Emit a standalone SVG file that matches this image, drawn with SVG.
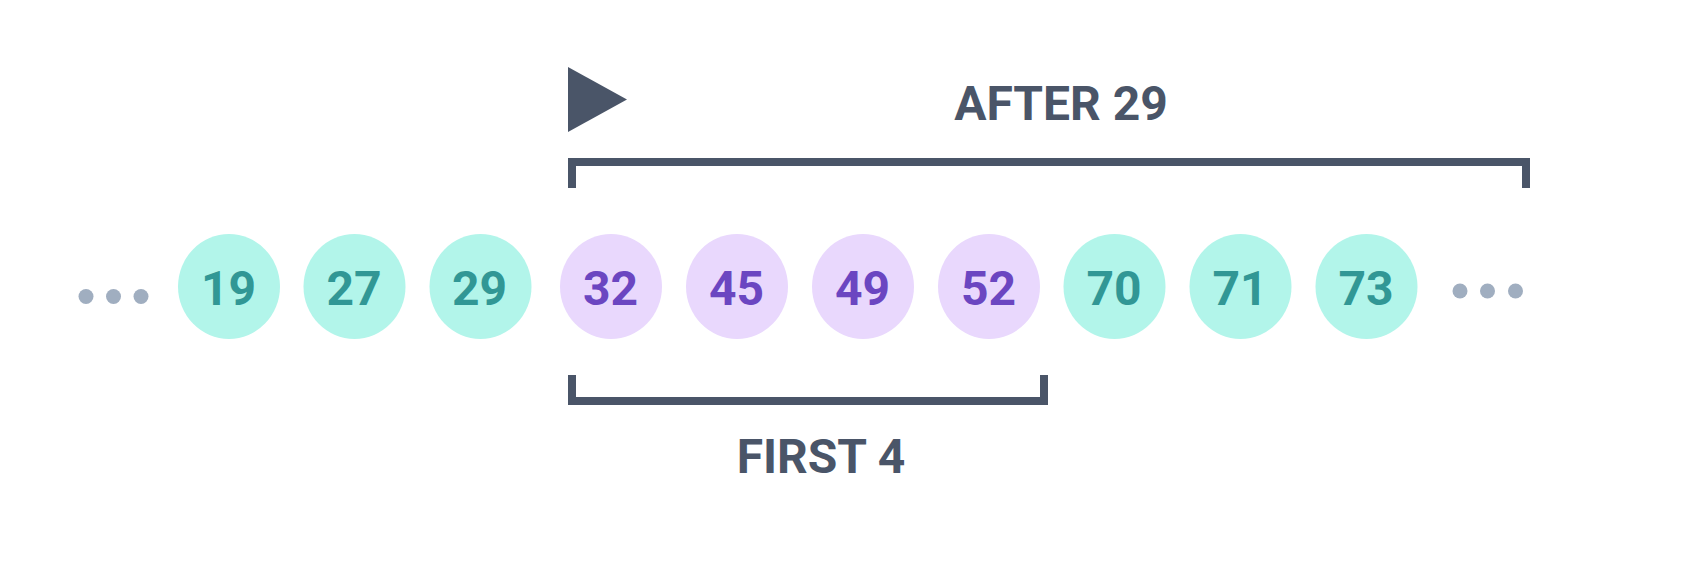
<svg xmlns="http://www.w3.org/2000/svg" width="1684" height="564" viewBox="0 0 1684 564">
<style>
.t{fill:#B2F5EA}.p{fill:#E9D8FD}
.tt{fill:#319795}.pt{fill:#6B46C1}
text{font-family:Roboto,"Liberation Sans",sans-serif;font-weight:700;text-anchor:middle}
.n{font-size:48px}
.lbl{font-size:48px;fill:#4A5568}
.br{fill:none;stroke:#4A5568;stroke-width:8}
.dot{fill:#A0AEC0}
</style>
<rect width="1684" height="564" fill="#fff"/>
<g id="connectors">
<polygon points="568,67 627,99.5 568,132" fill="#4A5568"/>
<path class="br" d="M572,188 V162 H1526 V188"/>
<path class="br" d="M572,375 V401 H1044 V375"/>
</g>
<g id="label-after"><text class="lbl" x="1061" y="120">AFTER 29</text></g>
<g id="label-first"><text class="lbl" x="821" y="473">FIRST 4</text></g>
<g id="dots-left"><circle class="dot" cx="86" cy="296.5" r="7.5"/><circle class="dot" cx="113.5" cy="296.5" r="7.5"/><circle class="dot" cx="141" cy="296.5" r="7.5"/></g>
<g id="dots-right"><circle class="dot" cx="1460" cy="291" r="7.5"/><circle class="dot" cx="1487.5" cy="291" r="7.5"/><circle class="dot" cx="1515.5" cy="291" r="7.5"/></g>
<g id="n19"><ellipse class="t" cx="229" cy="286.5" rx="51" ry="52.5"/><text class="n tt" x="228.5" y="305">19</text></g>
<g id="n27"><ellipse class="t" cx="354.5" cy="286.5" rx="51" ry="52.5"/><text class="n tt" x="354" y="305">27</text></g>
<g id="n29"><ellipse class="t" cx="480.5" cy="286.5" rx="51" ry="52.5"/><text class="n tt" x="479.5" y="305">29</text></g>
<g id="n32"><ellipse class="p" cx="611" cy="286.5" rx="51" ry="52.5"/><text class="n pt" x="610.5" y="305">32</text></g>
<g id="n45"><ellipse class="p" cx="737" cy="286.5" rx="51" ry="52.5"/><text class="n pt" x="736.5" y="305">45</text></g>
<g id="n49"><ellipse class="p" cx="863" cy="286.5" rx="51" ry="52.5"/><text class="n pt" x="862.5" y="305">49</text></g>
<g id="n52"><ellipse class="p" cx="989" cy="286.5" rx="51" ry="52.5"/><text class="n pt" x="988.5" y="305">52</text></g>
<g id="n70"><ellipse class="t" cx="1114.5" cy="286.5" rx="51" ry="52.5"/><text class="n tt" x="1114" y="305">70</text></g>
<g id="n71"><ellipse class="t" cx="1240.5" cy="286.5" rx="51" ry="52.5"/><text class="n tt" x="1240" y="305">71</text></g>
<g id="n73"><ellipse class="t" cx="1366.5" cy="286.5" rx="51" ry="52.5"/><text class="n tt" x="1366" y="305">73</text></g>
</svg>
